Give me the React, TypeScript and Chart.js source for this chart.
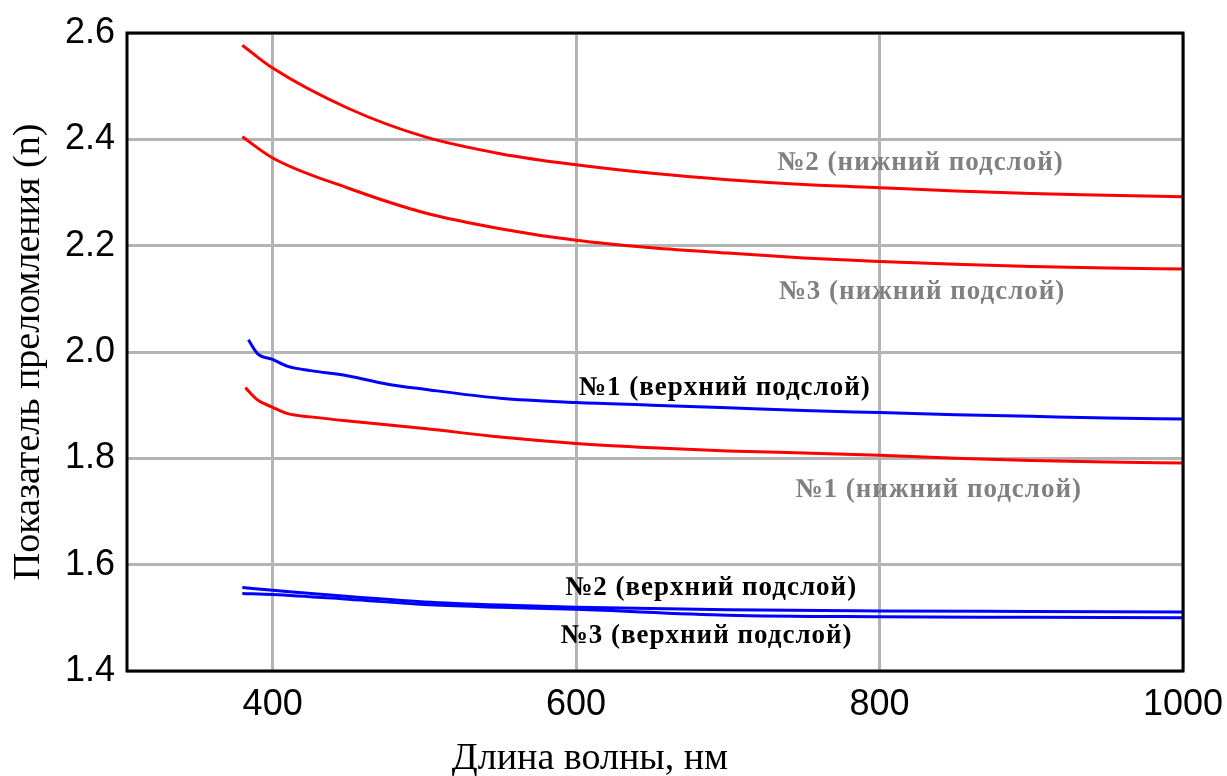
import React, { useEffect, useRef } from 'react';
import { Chart, registerables } from 'chart.js';
Chart.register(...registerables);

// Axis ticks
const xTickValues = [400, 600, 800, 1000];
const yTickValues = [1.4, 1.6, 1.8, 2.0, 2.2, 2.4, 2.6];

// №2 (нижний подслой)
const wl_n2_lower = [380, 400, 450, 500, 550, 600, 650, 700, 750, 800, 850, 900, 950, 1000];
const n_n2_lower = [2.577, 2.534, 2.458, 2.405, 2.373, 2.352, 2.336, 2.324, 2.315, 2.309, 2.303, 2.298, 2.295, 2.292];

// №3 (нижний подслой)
const wl_n3_lower = [380, 400, 450, 500, 550, 600, 650, 700, 750, 800, 850, 900, 950, 1000];
const n_n3_lower = [2.405, 2.365, 2.308, 2.262, 2.232, 2.21, 2.196, 2.186, 2.177, 2.17, 2.165, 2.161, 2.158, 2.156];

// №1 (верхний подслой)
const wl_n1_upper = [384, 390, 400, 410, 425, 450, 475, 500, 550, 600, 650, 700, 750, 800, 850, 900, 950, 1000];
const n_n1_upper = [2.023, 1.997, 1.986, 1.973, 1.965, 1.955, 1.94, 1.93, 1.913, 1.905, 1.9, 1.895, 1.89, 1.886, 1.882, 1.879, 1.876, 1.874];

// №1 (нижний подслой)
const wl_n1_lower = [382, 390, 400, 410, 425, 450, 500, 550, 600, 650, 700, 750, 800, 850, 900, 950, 1000];
const n_n1_lower = [1.933, 1.91, 1.896, 1.884, 1.878, 1.87, 1.856, 1.84, 1.828, 1.82, 1.814, 1.81, 1.806, 1.8, 1.796, 1.793, 1.791];

// №2 (верхний подслой)
const wl_n2_upper = [380, 400, 450, 500, 550, 600, 700, 800, 900, 1000];
const n_n2_upper = [1.557, 1.552, 1.54, 1.53, 1.524, 1.52, 1.515, 1.513, 1.512, 1.511];

// №3 (верхний подслой)
const wl_n3_upper = [380, 400, 450, 500, 550, 600, 700, 800, 900, 1000];
const n_n3_upper = [1.546, 1.544, 1.535, 1.525, 1.52, 1.516, 1.505, 1.502, 1.501, 1.5];

const RED = '#ff0000';
const BLUE = '#0000ff';

// Curve annotations: text, anchor in data units, colour
const annotationTexts = [
  '№2 (нижний подслой)',
  '№3 (нижний подслой)',
  '№1 (верхний подслой)',
  '№1 (нижний подслой)',
  '№2 (верхний подслой)',
  '№3 (верхний подслой)',
];
const annotationX = [827, 828, 698, 839, 689, 686];
const annotationY = [2.356, 2.112, 1.933, 1.74, 1.556, 1.466];
const annotationColors = ['#808080', '#808080', '#000000', '#808080', '#000000', '#000000'];

const pairs = (xs: number[], ys: number[]) => xs.map((x, i) => ({ x, y: ys[i] }));

const framePlugin = {
  id: 'frameAndText',
  afterDatasetsDraw(chart: any) {
    const { ctx, chartArea, scales } = chart;
    ctx.save();
    // labels
    ctx.font = 'bold 27px "Liberation Serif", "Times New Roman", serif';
    ctx.textAlign = 'center';
    ctx.textBaseline = 'middle';
    (ctx as any).letterSpacing = '1px';
    annotationTexts.forEach((t, i) => {
      ctx.fillStyle = annotationColors[i];
      ctx.fillText(t, scales.x.getPixelForValue(annotationX[i]), scales.y.getPixelForValue(annotationY[i]));
    });
    (ctx as any).letterSpacing = '0px';
    // frame
    ctx.strokeStyle = '#000';
    ctx.lineWidth = 3;
    ctx.strokeRect(chartArea.left, chartArea.top, chartArea.right - chartArea.left, chartArea.bottom - chartArea.top);
    // x title
    ctx.fillStyle = '#000';
    ctx.font = '38px "Liberation Serif", "Times New Roman", serif';
    ctx.textAlign = 'center';
    ctx.textBaseline = 'alphabetic';
    ctx.fillText('Длина волны, нм', 590, 769);
    ctx.restore();
  },
};

export default function App() {
  const ref = useRef<HTMLCanvasElement>(null);
  useEffect(() => {
    if (!ref.current) return;
    const mk = (xs: number[], ys: number[], color: string) => ({
      data: pairs(xs, ys),
      borderColor: color,
      backgroundColor: color,
      borderWidth: 3,
      pointRadius: 0,
      cubicInterpolationMode: 'monotone' as const,
      fill: false,
    });
    const chart = new Chart(ref.current, {
      type: 'line',
      data: {
        datasets: [
          mk(wl_n2_lower, n_n2_lower, RED),
          mk(wl_n3_lower, n_n3_lower, RED),
          mk(wl_n1_upper, n_n1_upper, BLUE),
          mk(wl_n1_lower, n_n1_lower, RED),
          mk(wl_n2_upper, n_n2_upper, BLUE),
          mk(wl_n3_upper, n_n3_upper, BLUE),
        ],
      },
      options: {
        animation: false,
        responsive: false,
        layout: { padding: { top: 33, right: 44, left: 0, bottom: 0 } },
        plugins: { legend: { display: false }, tooltip: { enabled: false } },
        scales: {
          x: {
            type: 'linear',
            min: 304,
            max: 1000,
            afterBuildTicks: (s: any) => { s.ticks = xTickValues.map((v) => ({ value: v })); },
            afterFit: (s: any) => { s.height = 105; s.paddingRight = 0; s.paddingLeft = 0; },
            grid: { color: '#b4b4b4', lineWidth: 3, drawTicks: false },
            border: { display: false },
            ticks: {
              padding: 12,
              color: '#000',
              font: { family: '"Liberation Sans", Arial, sans-serif', size: 36 },
              callback: (v: any) => String(v),
            },
          },
          y: {
            type: 'linear',
            min: 1.4,
            max: 2.6,
            afterBuildTicks: (s: any) => { s.ticks = yTickValues.map((v) => ({ value: v })); },
            afterFit: (s: any) => { s.width = 127; s.paddingTop = 0; s.paddingBottom = 0; },
            grid: { color: '#b4b4b4', lineWidth: 3, drawTicks: false },
            border: { display: false },
            ticks: {
              padding: 12,
              color: '#000',
              font: { family: '"Liberation Sans", Arial, sans-serif', size: 36 },
              callback: (v: any) => Number(v).toFixed(1),
            },
            title: {
              display: true,
              text: 'Показатель преломления (n)',
              color: '#000',
              font: { family: '"Liberation Serif", "Times New Roman", serif', size: 38 },
              padding: { top: 6, bottom: 0 },
            },
          },
        },
      },
      plugins: [framePlugin],
    });
    return () => chart.destroy();
  }, []);
  return (
    <div style={{ position: 'absolute', left: 0, top: 0, width: 1227, height: 776, background: '#fff' }}>
      <canvas ref={ref} width={1227} height={776} />
    </div>
  );
}
